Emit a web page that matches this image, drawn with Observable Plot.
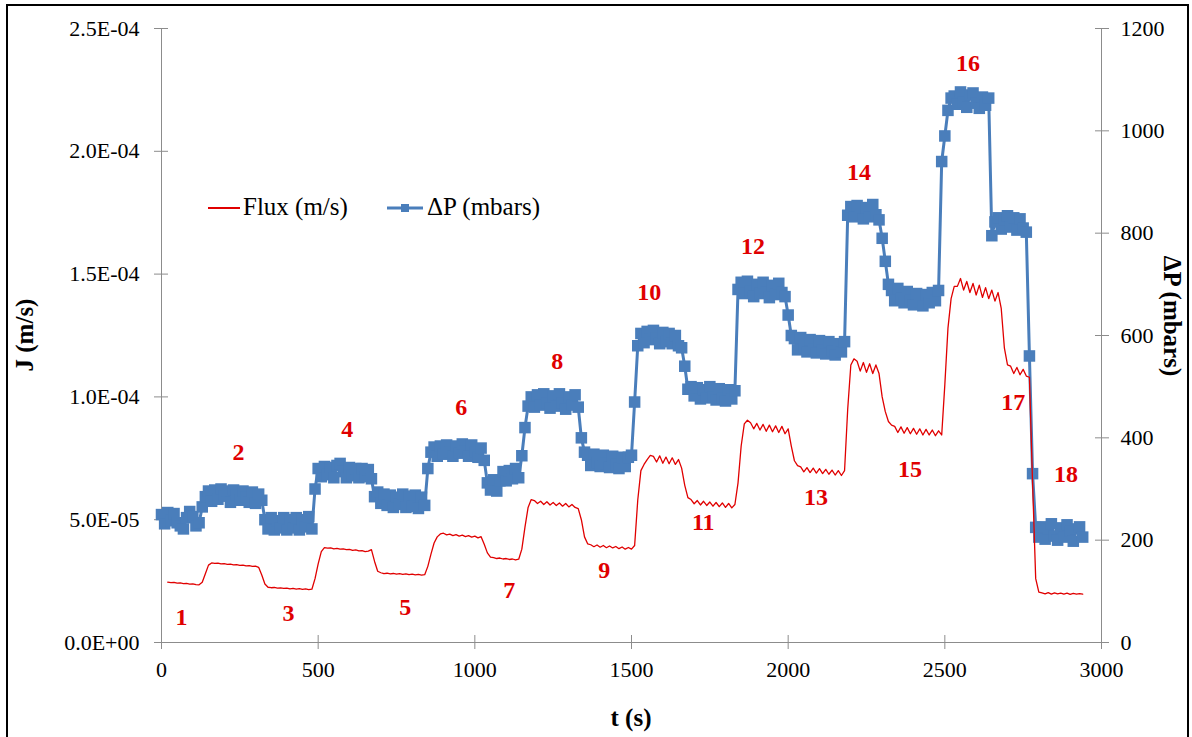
<!DOCTYPE html>
<html><head><meta charset="utf-8">
<script src="https://cdn.jsdelivr.net/npm/d3@7"></script>
<script src="https://cdn.jsdelivr.net/npm/@observablehq/plot@0.6"></script>
<style>
html,body{margin:0;padding:0;background:#fff;overflow:hidden;}
#wrap{position:relative;width:1192px;height:737px;overflow:hidden;background:#fff;}
#chart svg{display:block;}
#frame{position:absolute;left:6px;top:4px;width:1183px;height:800px;border:2px solid #000;box-sizing:border-box;pointer-events:none;}
</style></head>
<body><div id="wrap"><div id="chart"></div><div id="frame"></div></div>
<script>
// sampling instants (s), 10 s apart
const times = d3.range(0, 2950, 10);

// Flux J, in units of 1e-5 m/s (null = no data)
const fluxE5 = [
 null,null,2.46,2.44,2.45,2.42,2.43,2.40,2.41,2.38,
 2.39,2.36,2.35,2.45,2.80,3.15,3.24,3.22,3.23,3.20,
 3.21,3.18,3.19,3.16,3.17,3.14,3.15,3.12,3.13,3.10,
 3.11,3.06,2.75,2.38,2.25,2.23,2.24,2.21,2.22,2.20,
 2.21,2.18,2.20,2.17,2.19,2.16,2.18,2.15,2.17,2.60,
 3.20,3.70,3.86,3.84,3.85,3.81,3.83,3.80,3.81,3.78,
 3.79,3.75,3.77,3.73,3.74,3.70,3.72,3.78,3.30,2.90,
 2.84,2.80,2.82,2.79,2.81,2.78,2.80,2.77,2.79,2.76,
 2.78,2.75,2.77,2.74,2.76,3.10,3.60,4.05,4.30,4.42,
 4.45,4.38,4.41,4.35,4.39,4.33,4.37,4.31,4.35,4.29,
 4.33,4.26,4.31,4.00,3.65,3.48,3.46,3.42,3.44,3.40,
 3.42,3.38,3.40,3.36,3.39,3.80,4.70,5.50,5.82,5.78,
 5.66,5.75,5.62,5.73,5.60,5.70,5.58,5.68,5.55,5.66,
 5.52,5.62,5.50,5.45,5.00,4.30,4.02,3.98,3.90,3.97,
 3.88,3.95,3.86,3.93,3.85,3.91,3.82,3.89,3.80,3.87,
 3.80,3.95,5.80,7.00,7.25,7.45,7.62,7.58,7.35,7.60,
 7.30,7.55,7.28,7.52,7.25,7.45,7.10,6.40,5.90,5.82,
 5.65,5.78,5.60,5.75,5.58,5.72,5.55,5.70,5.53,5.68,
 5.50,5.66,5.48,5.62,6.50,8.00,8.90,9.05,8.95,8.70,
 8.92,8.65,8.88,8.60,8.85,8.58,8.82,8.55,8.80,8.50,
 8.70,8.00,7.40,7.20,7.15,6.95,7.12,6.92,7.10,6.90,
 7.08,6.88,7.05,6.85,7.02,6.82,7.00,6.80,7.00,9.50,
 11.30,11.55,11.45,11.05,11.40,11.00,11.35,10.95,11.30,10.95,
 10.00,9.40,9.00,8.85,8.80,8.55,8.78,8.52,8.75,8.50,
 8.72,8.48,8.70,8.45,8.68,8.45,8.65,8.42,8.62,8.45,
 10.50,12.80,14.00,14.50,14.50,14.82,14.35,14.70,14.25,14.62,
 14.15,14.55,14.05,14.45,14.00,14.35,13.90,14.25,13.60,12.00,
 11.30,11.25,10.95,11.20,10.90,11.12,10.85,10.80,6.50,2.60,
 2.05,2.02,1.98,2.03,1.97,2.02,1.98,2.01,1.97,2.01,
 1.96,2.00,1.97,1.99,1.97
];

// Transmembrane pressure ΔP (mbar)
const dpMbar = [
 250,232,254,238,252,234,228,222,244,256,
 246,228,234,265,285,296,276,298,280,300,
 286,296,274,298,288,278,296,284,274,294,
 272,290,278,240,222,244,220,238,224,244,
 220,240,224,244,220,240,226,246,222,300,
 340,324,344,328,342,322,346,350,334,322,
 342,326,340,322,340,324,338,320,285,294,
 272,290,268,288,264,284,270,290,264,286,
 266,288,262,284,268,340,372,382,364,384,
 368,386,372,364,384,370,388,374,364,386,
 372,362,380,356,312,298,318,296,316,334,
 316,336,320,340,322,365,420,462,480,460,
 484,464,486,468,458,482,462,486,468,456,
 480,464,484,460,400,372,366,346,368,352,
 344,366,350,342,364,348,340,362,344,362,
 366,470,580,604,586,608,592,610,594,584,
 606,588,604,584,600,580,576,540,495,500,
 482,498,476,494,478,500,480,474,496,478,
 472,494,476,492,690,704,682,706,686,676,
 700,682,704,684,674,698,680,702,684,676,
 640,600,594,572,596,576,568,592,574,566,
 590,572,564,588,570,562,584,568,588,835,
 852,832,854,836,828,850,832,856,836,826,
 790,745,700,688,668,692,672,664,686,668,
 660,682,666,658,680,664,684,668,688,940,
 990,1040,1064,1068,1052,1076,1056,1046,1070,1074,
 1054,1044,1066,1050,1064,795,822,830,808,826,
 834,812,830,806,828,810,802,560,330,225,
 206,226,202,222,232,208,200,224,206,230,
 218,198,222,226,206
];

// step annotations: number, time (s), J position (1e-5 m/s)
const stepLabels = ["1","2","3","4","5","6","7","8","9","10","11","12","13","14","15","16","17","18"];
const stepT = [64,246,405,593,778,957,1110,1263,1413,1557,1729,1888,2089,2226,2389,2574,2718,2887];
const stepJE5 = [1.02,7.74,1.18,8.67,1.43,9.57,2.12,11.44,2.93,14.25,4.89,16.13,5.90,19.14,7.04,23.58,9.77,6.84];

// axis ticks
const tTicks = [0,500,1000,1500,2000,2500,3000];
const jTicks = [0,0.5e-4,1.0e-4,1.5e-4,2.0e-4,2.5e-4];
const dpTicks = [0,200,400,600,800,1000,1200];

const J_MAX = 2.5e-4, DP_MAX = 1200;
const K = J_MAX / DP_MAX;

const rows = times.map((t, i) => ({
  t,
  flux: fluxE5[i] == null ? NaN : fluxE5[i] * 1e-5,
  dp: dpMbar[i] * K
}));
const labels = stepLabels.map((s, i) => ({s, t: stepT[i], j: stepJE5[i] * 1e-5}));

const fmtJ = d => {
  const [m, e] = d.toExponential(1).split("e");
  const n = +e;
  return m + "E" + (n < 0 ? "-" : "+") + String(Math.abs(n)).padStart(2, "0");
};

const RED = "#e00000", BLUE = "#4a7ebb", GRAY = "#8c8c8c";
const FONT = '"Liberation Serif","Times New Roman",serif';

const svg = Plot.plot({
  width: 1192, height: 737,
  marginLeft: 161, marginRight: 91, marginTop: 28, marginBottom: 95,
  style: {fontFamily: FONT, fontSize: "22px", background: "transparent", color: "#000", overflow: "visible"},
  x: {domain: [0, 3000], label: null},
  y: {domain: [0, J_MAX], label: null},
  marks: [
    Plot.ruleX([0], {stroke: GRAY}),
    Plot.ruleX([3000], {stroke: GRAY}),
    Plot.ruleY([0], {stroke: GRAY}),
    Plot.axisX(tTicks, {anchor: "bottom", tickSize: 14, dy: -7, tickPadding: 12, stroke: GRAY, fill: "#000", fontSize: 22, fontFamily: FONT, tickFormat: d => String(d), label: null}),
    Plot.axisY(jTicks, {anchor: "left", tickSize: 14, dx: 7, tickPadding: 15, stroke: GRAY, fill: "#000", fontSize: 22, fontFamily: FONT, tickFormat: fmtJ, label: null}),
    Plot.axisY(dpTicks.map(v => v * K), {anchor: "right", tickSize: 14, dx: -7, tickPadding: 12, stroke: GRAY, fill: "#000", fontSize: 22, fontFamily: FONT, tickFormat: d => String(Math.round(d / K)), label: null}),
    Plot.line(rows, {x: "t", y: "dp", stroke: BLUE, strokeWidth: 3}),
    Plot.dot(rows, {x: "t", y: "dp", symbol: "square", r: 6.5, fill: BLUE, stroke: "none"}),
    Plot.line(rows, {x: "t", y: "flux", stroke: RED, strokeWidth: 1.3}),
    Plot.text(labels, {x: "t", y: "j", text: "s", fill: RED, fontWeight: "bold", fontSize: 24, fontFamily: FONT})
  ]
});

const s = d3.select(svg);

// axis titles
const tg = s.append("g").attr("font-family", FONT).attr("font-size", 25).attr("font-weight", "bold").attr("fill", "#000").attr("text-anchor", "middle");
tg.append("text").attr("transform", "translate(24,335) rotate(-90)").attr("dy", "0.35em").text("J (m/s)");
tg.append("text").attr("transform", "translate(1173,316) rotate(90)").attr("dy", "0.35em").text("ΔP (mbars)");
tg.append("text").attr("x", 631).attr("y", 717).attr("dy", "0.35em").text("t (s)");

// legend
const lg = s.append("g").attr("font-family", FONT).attr("font-size", 25).attr("fill", "#000").attr("text-anchor", "start");
lg.append("line").attr("x1", 208).attr("x2", 240).attr("y1", 208).attr("y2", 208).attr("stroke", RED).attr("stroke-width", 2);
lg.append("text").attr("x", 243).attr("y", 215).text("Flux (m/s)");
lg.append("line").attr("x1", 387).attr("x2", 423).attr("y1", 208).attr("y2", 208).attr("stroke", BLUE).attr("stroke-width", 3);
lg.append("rect").attr("x", 401).attr("y", 204).attr("width", 8).attr("height", 8).attr("fill", BLUE);
lg.append("text").attr("x", 427).attr("y", 215).text("ΔP (mbars)");

document.getElementById("chart").appendChild(svg);
</script>
</body></html>
